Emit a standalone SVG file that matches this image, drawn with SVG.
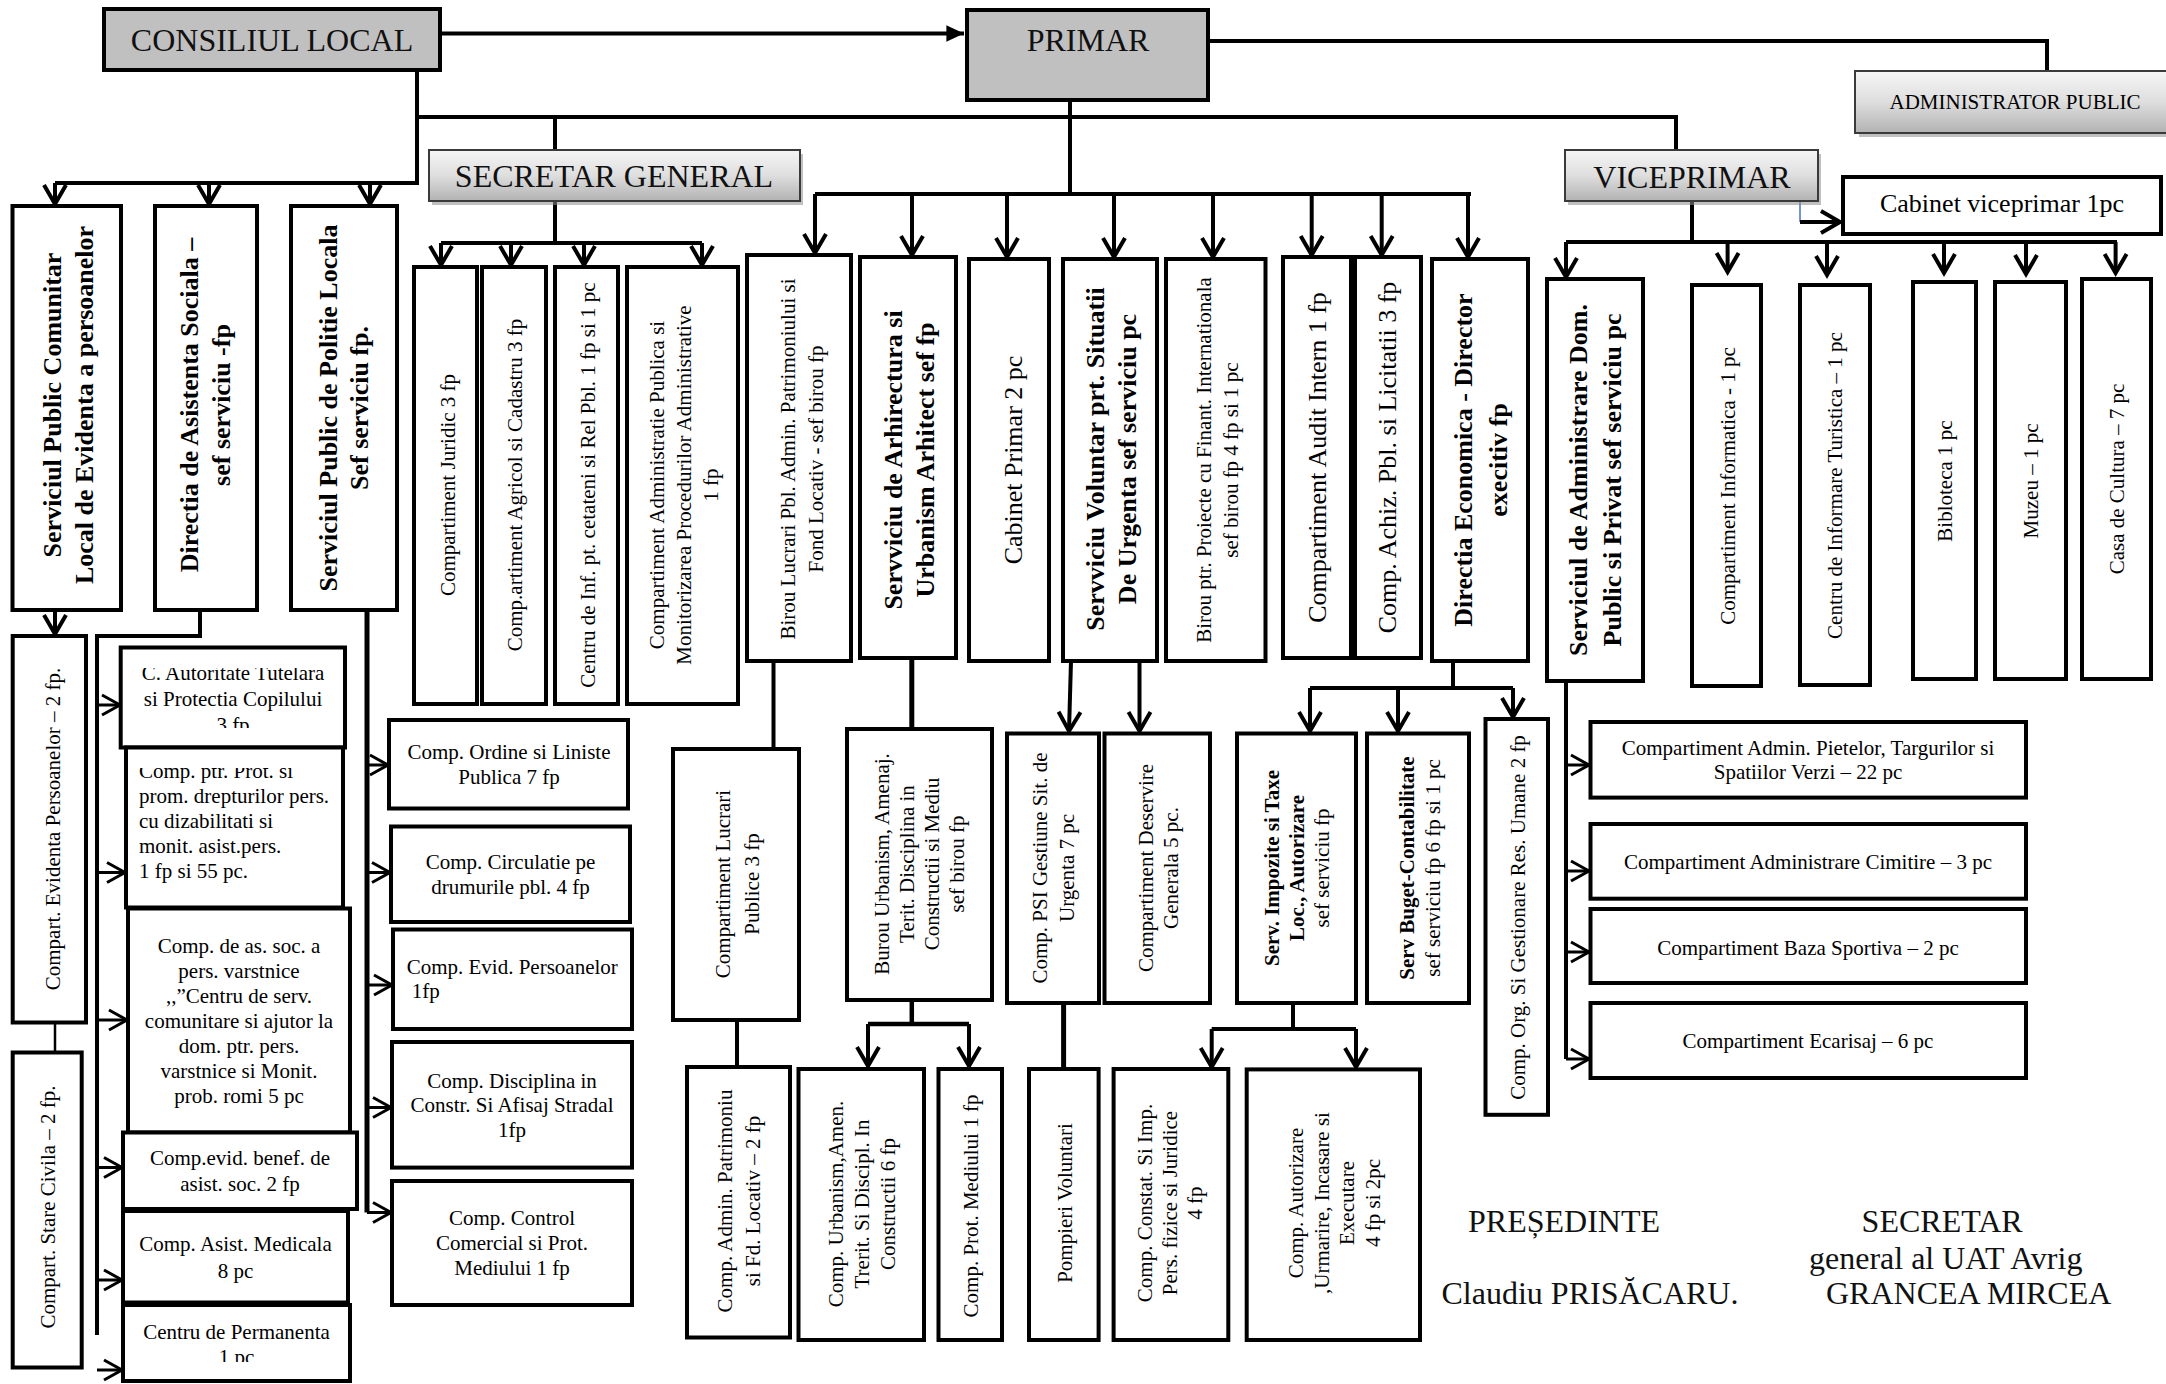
<svg xmlns="http://www.w3.org/2000/svg" width="2166" height="1384" viewBox="0 0 2166 1384">
<defs>
<style>
.box{fill:#fff;stroke:#000;stroke-width:4}
.gray{fill:#c0c0c0;stroke:#000;stroke-width:4}
.grad{fill:url(#gg);stroke:#3a3a3a;stroke-width:2}
.shadow{fill:#8c8c8c;opacity:.55}
.t{font-family:"Liberation Serif","Times New Roman",serif;font-size:21px;fill:#000}
.b{font-weight:bold;font-size:26px}
.b21{font-weight:bold}
.m{font-size:26px}
.big{font-size:32px;fill:#111}
.ln{stroke:#000;stroke-width:4;fill:none}
.a{marker-end:url(#chev)}
.as{marker-end:url(#chevs);stroke-width:3}
</style>
<linearGradient id="gg" x1="0" y1="0" x2="0" y2="1">
<stop offset="0" stop-color="#f6f6f6"/><stop offset="0.5" stop-color="#dedede"/><stop offset="1" stop-color="#b2b2b2"/>
</linearGradient>
<marker id="chev" markerUnits="userSpaceOnUse" markerWidth="30" markerHeight="30" viewBox="-25 -15 30 30" refX="0" refY="0" orient="auto" overflow="visible">
<path d="M-19,-11 L0,0 L-19,11" fill="none" stroke="#000" stroke-width="4"/>
</marker>
<marker id="chevs" markerUnits="userSpaceOnUse" markerWidth="30" markerHeight="30" viewBox="-25 -15 30 30" refX="0" refY="0" orient="auto" overflow="visible">
<path d="M-18,-10 L0,0 L-18,10" fill="none" stroke="#000" stroke-width="3"/>
</marker>
<marker id="tri" markerUnits="userSpaceOnUse" markerWidth="20" markerHeight="20" viewBox="-16 -8 17 16" refX="0" refY="0" orient="auto" overflow="visible">
<path d="M-15,-7 L0,0 L-15,7 z" fill="#000"/>
</marker>
<clipPath id="c1"><rect x="121" y="668" width="224" height="60"/></clipPath>
<clipPath id="c2"><rect x="126" y="768" width="217" height="139"/></clipPath>
<clipPath id="c3"><rect x="123" y="1307" width="227" height="55"/></clipPath>
</defs>
<rect width="2166" height="1384" fill="#fff"/>

<g id="connectors" class="ln">
<path d="M440,33.5 H964" style="marker-end:url(#tri)"/>
<path d="M1208,41 H2047 V71"/>
<path d="M417,70 V183 H55"/>
<path class="a" d="M55,183 V204"/>
<path class="a" d="M209,183 V204"/>
<path class="a" d="M370,183 V204"/>
<path d="M417,117 H1676 V150"/>
<path d="M555,117 V150"/>
<path d="M555,201 V243 M441,243 H702"/>
<path class="a" d="M441,243 V265"/>
<path class="a" d="M511,243 V265"/>
<path class="a" d="M584,243 V265"/>
<path class="a" d="M702,243 V265"/>
<path d="M1070,100 V194 M815,194 H1471"/>
<path class="a" d="M815,194 V253"/>
<path class="a" d="M912,194 V255"/>
<path class="a" d="M1007,194 V257"/>
<path class="a" d="M1114,194 V257"/>
<path class="a" d="M1213,194 V257"/>
<path class="a" d="M1311.7,194 V255"/>
<path class="a" d="M1381.7,194 V255"/>
<path class="a" d="M1468,194 V257"/>
<path d="M1692,201 V242 M1566,242 H2117"/>
<path class="a" d="M1566,242 V277"/>
<path class="a" d="M1727.6,242 V272"/>
<path class="a" d="M1827,242 V275"/>
<path class="a" d="M1944,242 V273"/>
<path class="a" d="M2026,242 V274"/>
<path class="a" d="M2115.6,242 V273"/>
<path d="M1800,201 V222" style="stroke:#4472c4;stroke-width:1.5"/>
<path class="a" d="M1800,222 H1840"/>
<path class="a" d="M55,610 V634"/>
<path d="M55,1022 V1052" style="stroke-width:2.5"/>
<path d="M200,610 V636 H97 V1335"/>
<path class="as" d="M97,705 H120"/>
<path class="as" d="M97,872.5 H125"/>
<path class="as" d="M97,1020 H127"/>
<path class="as" d="M97,1167.5 H122"/>
<path class="as" d="M97,1280 H122"/>
<path class="as" d="M97,1370 H122"/>
<path d="M367,610 V1212.5" style="stroke-width:5"/>
<path class="as" d="M367,765 H388"/>
<path class="as" d="M367,872.5 H390"/>
<path class="as" d="M367,985 H392"/>
<path class="as" d="M367,1107.5 H391"/>
<path class="as" d="M367,1212.5 H391"/>
<path d="M773.5,661 V749"/>
<path d="M737,1020 V1067"/>
<path d="M911.8,658 V729" style="stroke-width:5"/>
<path d="M911.8,1000 V1026 M868,1024 H969" style="stroke-width:4.5"/>
<path class="a" d="M868,1024 V1066"/>
<path class="a" d="M969,1024 V1066"/>
<path class="a" d="M1071,661 L1069,731"/>
<path class="a" d="M1139.5,661 V731"/>
<path d="M1063.6,1003 V1069" style="stroke-width:5"/>
<path d="M1453,661 V688 M1310,688 H1513"/>
<path class="a" d="M1310,688 V731"/>
<path class="a" d="M1398,688 V731"/>
<path class="a" d="M1513,688 V717"/>
<path d="M1293,1003 V1029 M1211.7,1029 H1356"/>
<path class="a" d="M1211.7,1029 V1067"/>
<path class="a" d="M1356,1029 V1067"/>
<path d="M1566,681 V1059"/>
<path class="as" d="M1566,765 H1589"/>
<path class="as" d="M1566,871 H1589"/>
<path class="as" d="M1566,952 H1589"/>
<path class="as" d="M1566,1059 H1589"/>
</g>

<g id="n-consiliul"><rect class="gray" x="104" y="9" width="336" height="61"/><text class="t big" x="272" y="51" text-anchor="middle">CONSILIUL LOCAL</text></g>
<g id="n-primar"><rect class="gray" x="967" y="10" width="241" height="90"/><text class="t big" x="1088" y="51" text-anchor="middle">PRIMAR</text></g>
<g id="n-administrator"><rect class="shadow" x="1859" y="75" width="320" height="62"/><rect class="grad" x="1855" y="71" width="320" height="62"/><text class="t" x="2015" y="109" text-anchor="middle">ADMINISTRATOR PUBLIC</text></g>
<g id="n-secretar"><rect class="shadow" x="432" y="154" width="371" height="51"/><rect class="grad" x="429" y="150" width="371" height="51"/><text class="t big" x="614" y="187" text-anchor="middle">SECRETAR GENERAL</text></g>
<g id="n-viceprimar"><rect class="shadow" x="1568" y="154" width="253" height="51"/><rect class="grad" x="1565" y="150" width="253" height="51"/><text class="t big" x="1692" y="187.5" text-anchor="middle">VICEPRIMAR</text></g>
<g id="n-cabinet-vice"><rect class="box" x="1843" y="177" width="318" height="57"/><text class="t m" x="2002" y="212" text-anchor="middle">Cabinet viceprimar 1pc</text></g>

<g id="n-spclep"><rect class="box" x="12.5" y="206" width="108.5" height="404"/><text class="t b" transform="translate(61,405) rotate(-90)" text-anchor="middle"><tspan x="0" y="0">Serviciul Public Comunitar</tspan><tspan x="0" y="32">Local de Evidenta a persoanelor</tspan></text></g>
<g id="n-das"><rect class="box" x="155" y="206" width="102" height="404"/><text class="t b" transform="translate(198,405) rotate(-90)" text-anchor="middle"><tspan x="0" y="0">Directia de Asistenta Sociala –</tspan><tspan x="0" y="32">sef serviciu -fp</tspan></text></g>
<g id="n-spl"><rect class="box" x="291" y="206" width="106" height="404"/><text class="t b" transform="translate(337,408) rotate(-90)" text-anchor="middle"><tspan x="0" y="0">Serviciul Public de Politie Locala</tspan><tspan x="0" y="31">Sef serviciu fp.</tspan></text></g>
<g id="n-evid-pers"><rect class="box" x="12.7" y="636" width="73.3" height="386.5"/><text class="t" transform="translate(60,829) rotate(-90)" text-anchor="middle">Compart. Evidenta Persoanelor – 2 fp.</text></g>
<g id="n-stare-civila"><rect class="box" x="12.7" y="1052.5" width="69" height="315"/><text class="t" transform="translate(55,1207) rotate(-90)" text-anchor="middle">Compart. Stare Civila – 2 fp.</text></g>

<g id="n-aut-tutelara"><rect class="box" x="120.7" y="647.5" width="224.3" height="100"/><text class="t" x="233" text-anchor="middle" clip-path="url(#c1)"><tspan x="233" y="680">C. Autoritate Tutelara</tspan><tspan x="233" y="706">si Protectia Copilului</tspan><tspan x="233" y="732">3 fp</tspan></text></g>
<g id="n-prot-diz"><rect class="box" x="126" y="747.5" width="217" height="160"/><text class="t" clip-path="url(#c2)"><tspan x="139" y="777.5">Comp. ptr. Prot. si</tspan><tspan x="139" y="802.5">prom. drepturilor pers.</tspan><tspan x="139" y="827.5">cu dizabilitati si</tspan><tspan x="139" y="852.5">monit. asist.pers.</tspan><tspan x="139" y="877.5">1 fp si 55 pc.</tspan></text></g>
<g id="n-varstnice"><rect class="box" x="128" y="908.5" width="222" height="224"/><text class="t" text-anchor="middle"><tspan x="239" y="952.5">Comp. de as. soc. a</tspan><tspan x="239" y="977.5">pers. varstnice</tspan><tspan x="239" y="1002.5">,,”Centru de serv.</tspan><tspan x="239" y="1027.5">comunitare si ajutor la</tspan><tspan x="239" y="1052.5">dom. ptr. pers.</tspan><tspan x="239" y="1077.5">varstnice si Monit.</tspan><tspan x="239" y="1102.5">prob. romi 5 pc</tspan></text></g>
<g id="n-evid-benef"><rect class="box" x="123" y="1132.5" width="234" height="76.5"/><text class="t" text-anchor="middle"><tspan x="240" y="1165">Comp.evid. benef. de</tspan><tspan x="240" y="1191">asist. soc. 2 fp</tspan></text></g>
<g id="n-asist-med"><rect class="box" x="123" y="1211" width="225" height="91.5"/><text class="t" text-anchor="middle"><tspan x="235.5" y="1251">Comp. Asist. Medicala</tspan><tspan x="235.5" y="1277.5">8 pc</tspan></text></g>
<g id="n-permanenta"><rect class="box" x="123" y="1305" width="227" height="76"/><text class="t" text-anchor="middle" clip-path="url(#c3)"><tspan x="236.5" y="1339">Centru de Permanenta</tspan><tspan x="236.5" y="1364">1 pc</tspan></text></g>

<g id="n-ordine"><rect class="box" x="389" y="720" width="239" height="88.5"/><text class="t" text-anchor="middle"><tspan x="509" y="758.6">Comp. Ordine si Liniste</tspan><tspan x="509" y="783.8">Publica 7 fp</tspan></text></g>
<g id="n-circulatie"><rect class="box" x="391" y="826.5" width="239" height="95.5"/><text class="t" text-anchor="middle"><tspan x="510.5" y="868.7">Comp. Circulatie pe</tspan><tspan x="510.5" y="894">drumurile pbl. 4 fp</tspan></text></g>
<g id="n-evid-pers2"><rect class="box" x="393" y="929.5" width="239" height="99.5"/><text class="t"><tspan x="406.7" y="973.6">Comp. Evid. Persoanelor</tspan><tspan x="411.7" y="998">1fp</tspan></text></g>
<g id="n-disciplina"><rect class="box" x="392" y="1042" width="240" height="125.6"/><text class="t" text-anchor="middle"><tspan x="512" y="1087.5">Comp. Disciplina in</tspan><tspan x="512" y="1112">Constr. Si Afisaj Stradal</tspan><tspan x="512" y="1137">1fp</tspan></text></g>
<g id="n-control"><rect class="box" x="392" y="1181" width="240" height="124"/><text class="t" text-anchor="middle"><tspan x="512" y="1224.6">Comp. Control</tspan><tspan x="512" y="1249.7">Comercial si Prot.</tspan><tspan x="512" y="1275">Mediului 1 fp</tspan></text></g>

<g id="n-juridic"><rect class="box" x="414" y="267" width="63" height="437"/><text class="t" transform="translate(455,485) rotate(-90)" text-anchor="middle">Compartiment Juridic 3 fp</text></g>
<g id="n-agricol"><rect class="box" x="482" y="267" width="64" height="437"/><text class="t" transform="translate(522,485) rotate(-90)" text-anchor="middle">Comp.artiment Agricol si Cadastru 3 fp</text></g>
<g id="n-centru-inf"><rect class="box" x="555" y="267" width="63" height="437"/><text class="t" transform="translate(594.5,485) rotate(-90)" text-anchor="middle">Centru de Inf. pt. cetateni si Rel Pbl. 1 fp si 1 pc</text></g>
<g id="n-admin-publica"><rect class="box" x="627" y="267" width="111" height="437"/><text class="t" transform="translate(664,485) rotate(-90)" text-anchor="middle"><tspan x="0" y="0">Compartiment Administratie Publica si</tspan><tspan x="0" y="27">Monitorizarea Procedurilor Administrative</tspan><tspan x="0" y="54">1 fp</tspan></text></g>

<g id="n-birou-lucrari"><rect class="box" x="747" y="255" width="104" height="406"/><text class="t" transform="translate(795,459) rotate(-90)" text-anchor="middle"><tspan x="0" y="0">Birou Lucrari Pbl. Admin. Patrimoniului si</tspan><tspan x="0" y="28">Fond Locativ - sef birou fp</tspan></text></g>
<g id="n-arhitectura"><rect class="box" x="860" y="257" width="96" height="401"/><text class="t b" transform="translate(902,460) rotate(-90)" text-anchor="middle"><tspan x="0" y="0">Servviciu de Arhirectura si</tspan><tspan x="0" y="32">Urbanism Arhitect sef fp</tspan></text></g>
<g id="n-cabinet-primar"><rect class="box" x="969" y="259" width="80" height="402"/><text class="t m" transform="translate(1022,460) rotate(-90)" text-anchor="middle">Cabinet Primar 2 pc</text></g>
<g id="n-voluntar"><rect class="box" x="1063" y="259" width="94" height="402"/><text class="t b" transform="translate(1104,459) rotate(-90)" text-anchor="middle"><tspan x="0" y="0">Servviciu Voluntar prt. Situatii</tspan><tspan x="0" y="32">De Urgenta sef serviciu pc</tspan></text></g>
<g id="n-proiecte"><rect class="box" x="1166" y="259" width="99.5" height="402"/><text class="t" transform="translate(1211,460) rotate(-90)" text-anchor="middle"><tspan x="0" y="0">Birou ptr. Proiecte cu Finant. Internationala</tspan><tspan x="0" y="26.5">sef birou fp 4 fp si 1 pc</tspan></text></g>
<g id="n-audit"><rect class="box" x="1283" y="257" width="68" height="401"/><text class="t m" transform="translate(1326,457.5) rotate(-90)" text-anchor="middle">Compartiment Audit Intern 1 fp</text></g>
<g id="n-achiz"><rect class="box" x="1355" y="257" width="66" height="401"/><text class="t m" transform="translate(1396,457.5) rotate(-90)" text-anchor="middle">Comp. Achiz. Pbl. si Licitatii 3 fp</text></g>
<g id="n-dir-eco"><rect class="box" x="1432" y="259" width="96" height="402"/><text class="t b" transform="translate(1472,460) rotate(-90)" text-anchor="middle"><tspan x="0" y="0">Directia Economica - Director</tspan><tspan x="0" y="35">execitiv fp</tspan></text></g>

<g id="n-sadpp"><rect class="box" x="1547" y="279" width="96" height="402"/><text class="t b" transform="translate(1587,480) rotate(-90)" text-anchor="middle"><tspan x="0" y="0">Serviciul de Administrare Dom.</tspan><tspan x="0" y="34">Public si Privat sef serviciu pc</tspan></text></g>
<g id="n-informatica"><rect class="box" x="1692" y="285" width="69" height="401"/><text class="t" transform="translate(1735,486) rotate(-90)" text-anchor="middle">Compartiment Informatica - 1 pc</text></g>
<g id="n-turistica"><rect class="box" x="1800" y="285" width="70" height="400"/><text class="t" transform="translate(1842,485.5) rotate(-90)" text-anchor="middle">Centru de Informare Turistica – 1 pc</text></g>
<g id="n-biblioteca"><rect class="box" x="1913" y="282" width="63" height="397"/><text class="t" transform="translate(1952,481) rotate(-90)" text-anchor="middle">Bibloteca 1 pc</text></g>
<g id="n-muzeu"><rect class="box" x="1995" y="282" width="71" height="397"/><text class="t" transform="translate(2038,481) rotate(-90)" text-anchor="middle">Muzeu – 1 pc</text></g>
<g id="n-casa-cultura"><rect class="box" x="2082" y="279" width="69" height="400"/><text class="t" transform="translate(2124,479) rotate(-90)" text-anchor="middle">Casa de Cultura – 7 pc</text></g>

<g id="n-lucrari-publice"><rect class="box" x="673" y="749" width="126" height="271"/><text class="t" transform="translate(730,884) rotate(-90)" text-anchor="middle"><tspan x="0" y="0">Compartiment Lucrari</tspan><tspan x="0" y="29">Publice 3 fp</tspan></text></g>
<g id="n-admin-patrimoniu"><rect class="box" x="687" y="1067" width="103" height="270.5"/><text class="t" transform="translate(732,1201) rotate(-90)" text-anchor="middle"><tspan x="0" y="0">Comp. Admin. Patrimoniu</tspan><tspan x="0" y="28">si Fd. Locativ – 2 fp</tspan></text></g>
<g id="n-burou-urbanism"><rect class="box" x="847" y="729" width="145" height="271"/><text class="t" transform="translate(889,864) rotate(-90)" text-anchor="middle"><tspan x="0" y="0">Burou Urbanism, Amenaj.</tspan><tspan x="0" y="25">Terit. Disciplina in</tspan><tspan x="0" y="50">Constructii si Mediu</tspan><tspan x="0" y="75">sef birou fp</tspan></text></g>
<g id="n-urbanism-amen"><rect class="box" x="798.5" y="1069" width="125.5" height="271"/><text class="t" transform="translate(843,1204) rotate(-90)" text-anchor="middle"><tspan x="0" y="0">Comp. Urbanism,Amen.</tspan><tspan x="0" y="26">Trerit. Si Discipl. In</tspan><tspan x="0" y="52">Constructii 6 fp</tspan></text></g>
<g id="n-prot-mediului"><rect class="box" x="938.5" y="1069" width="63.5" height="271"/><text class="t" transform="translate(978,1206) rotate(-90)" text-anchor="middle">Comp. Prot. Mediului 1 fp</text></g>
<g id="n-psi"><rect class="box" x="1007" y="733.5" width="92" height="269.5"/><text class="t" transform="translate(1047,868) rotate(-90)" text-anchor="middle"><tspan x="0" y="0">Comp. PSI Gestiune Sit. de</tspan><tspan x="0" y="27">Urgenta 7 pc</tspan></text></g>
<g id="n-deservire"><rect class="box" x="1104.5" y="733.5" width="105.5" height="269.5"/><text class="t" transform="translate(1153,868) rotate(-90)" text-anchor="middle"><tspan x="0" y="0">Compartiment Deservire</tspan><tspan x="0" y="25">Generala 5 pc.</tspan></text></g>
<g id="n-pompieri"><rect class="box" x="1029" y="1069" width="69.6" height="271"/><text class="t" transform="translate(1072,1203) rotate(-90)" text-anchor="middle">Pompieri Voluntari</text></g>
<g id="n-constat"><rect class="box" x="1113.6" y="1069" width="114.7" height="271"/><text class="t" transform="translate(1152,1203) rotate(-90)" text-anchor="middle"><tspan x="0" y="0">Comp. Constat. Si Imp.</tspan><tspan x="0" y="25">Pers. fizice si Juridice</tspan><tspan x="0" y="50">4 fp</tspan></text></g>
<g id="n-impozite"><rect class="box" x="1237" y="733.5" width="119" height="269.5"/><text class="t" transform="translate(1279,868) rotate(-90)" text-anchor="middle"><tspan x="0" y="0" class="b21">Serv. Impozite si Taxe</tspan><tspan x="0" y="25" class="b21">Loc., Autorizare</tspan><tspan x="0" y="50">sef serviciu fp</tspan></text></g>
<g id="n-buget"><rect class="box" x="1367" y="733.5" width="102" height="269.5"/><text class="t" transform="translate(1414,868) rotate(-90)" text-anchor="middle"><tspan x="0" y="0" class="b21">Serv Buget-Contabilitate</tspan><tspan x="0" y="26">sef serviciu fp 6 fp si 1 pc</tspan></text></g>
<g id="n-org-ru"><rect class="box" x="1485.5" y="719" width="62.5" height="395.8"/><text class="t" transform="translate(1525,917.5) rotate(-90)" text-anchor="middle">Comp. Org. Si Gestionare Res. Umane 2 fp</text></g>
<g id="n-autorizare"><rect class="box" x="1246.7" y="1069.4" width="173.3" height="270.6"/><text class="t" transform="translate(1303,1203) rotate(-90)" text-anchor="middle"><tspan x="0" y="0">Comp. Autorizare</tspan><tspan x="0" y="26">,Urmarire, Incasare si</tspan><tspan x="0" y="51">Executare</tspan><tspan x="0" y="77">4 fp si 2pc</tspan></text></g>

<g id="n-pietelor"><rect class="box" x="1590.5" y="722" width="435.5" height="75.6"/><text class="t" text-anchor="middle"><tspan x="1808" y="754.6">Compartiment Admin. Pietelor, Targurilor si</tspan><tspan x="1808" y="779">Spatiilor Verzi – 22 pc</tspan></text></g>
<g id="n-cimitire"><rect class="box" x="1590.5" y="824" width="435.5" height="74.7"/><text class="t" x="1808" y="868.7" text-anchor="middle">Compartiment Administrare Cimitire – 3 pc</text></g>
<g id="n-baza"><rect class="box" x="1590.5" y="909" width="435.5" height="74"/><text class="t" x="1808" y="954.6" text-anchor="middle">Compartiment Baza Sportiva – 2 pc</text></g>
<g id="n-ecarisaj"><rect class="box" x="1590.5" y="1003" width="435.5" height="75"/><text class="t" x="1808" y="1048" text-anchor="middle">Compartiment Ecarisaj – 6 pc</text></g>

<g id="signatures">
<text class="t big" x="1468" y="1231.6">PREȘEDINTE</text>
<text class="t big" x="1441.5" y="1304">Claudiu PRISĂCARU.</text>
<text class="t big" x="1861.6" y="1231.6">SECRETAR</text>
<text class="t big" x="1809" y="1268.5">general al UAT Avrig</text>
<text class="t big" x="1826" y="1304">GRANCEA MIRCEA</text>
</g>
</svg>
